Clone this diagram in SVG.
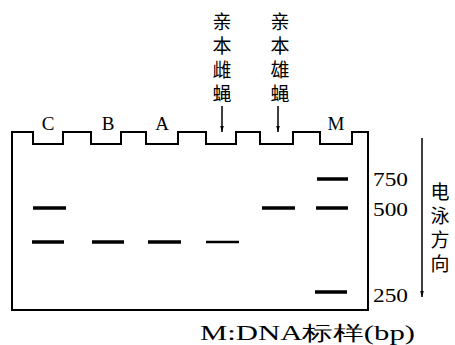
<svg xmlns="http://www.w3.org/2000/svg" width="455" height="345" viewBox="0 0 455 345">
<style>
.ln{fill:none;stroke:#000;stroke-width:2}
.ar{fill:none;stroke:#000;stroke-width:1.5}
.band{stroke:#000;stroke-width:3.5}
.lt{font-family:"Liberation Serif",serif;font-size:19px;fill:#000;text-anchor:middle}
.num{font-family:"Liberation Serif",serif;font-size:19px;fill:#000}
.cjk{font-family:"Liberation Serif","Noto Sans CJK SC",sans-serif;font-size:19px;fill:#000;text-anchor:middle}
</style>
<defs>
<marker id="ah" markerUnits="userSpaceOnUse" markerWidth="6" markerHeight="11" refX="10" refY="3" orient="auto" viewBox="0 0 10 6">
<path d="M0,0 L10,3 L0,6 z" fill="#000"/>
</marker>
</defs>
<rect width="455" height="345" fill="#fff"/>
<g id="gel">
<path class="ln" d="M12,310 L12,132 L33,132 L33,144 L63,144 L63,132 L91,132 L91,144 L121,144 L121,132 L146,132 L146,144 L178,144 L178,132 L206,132 L206,144 L236,144 L236,132 L260,132 L260,144 L293,144 L293,132 L320,132 L320,144 L352,144 L352,132 L368,132 L368,310 Z"/>
</g>
<g id="laneC">
<text class="lt" x="48" y="130">C</text>
<line class="band" x1="33" y1="208" x2="66" y2="208"/>
<line class="band" x1="32" y1="242" x2="64" y2="242"/>
</g>
<g id="laneB">
<text class="lt" x="108" y="130">B</text>
<line class="band" x1="92" y1="242" x2="124" y2="242"/>
</g>
<g id="laneA">
<text class="lt" x="162" y="130">A</text>
<line class="band" x1="148" y1="242" x2="181" y2="242"/>
</g>
<g id="laneFemale">
<text class="cjk" x="222" y="29">亲</text>
<text class="cjk" x="222" y="53">本</text>
<text class="cjk" x="222" y="77">雌</text>
<text class="cjk" x="222" y="101">蝇</text>
<line class="band" x1="206" y1="242" x2="239" y2="242" style="stroke-width:2.5"/>
</g>
<g id="laneMale">
<text class="cjk" x="280" y="29">亲</text>
<text class="cjk" x="280" y="53">本</text>
<text class="cjk" x="280" y="77">雄</text>
<text class="cjk" x="280" y="101">蝇</text>
<line class="band" x1="262" y1="208" x2="295" y2="208"/>
</g>
<g id="laneM">
<text class="lt" x="336" y="130">M</text>
<line class="band" x1="317" y1="179" x2="348" y2="179"/>
<line class="band" x1="316" y1="208" x2="348" y2="208"/>
<line class="band" x1="315" y1="292" x2="347" y2="292"/>
</g>
<g id="scale">
<text class="num" x="373" y="186" textLength="35" lengthAdjust="spacingAndGlyphs">750</text>
<text class="num" x="373" y="216" textLength="35" lengthAdjust="spacingAndGlyphs">500</text>
<text class="num" x="373" y="302" textLength="35" lengthAdjust="spacingAndGlyphs">250</text>
</g>
<g id="direction">
<text class="cjk" x="440" y="199">电</text>
<text class="cjk" x="440" y="223">泳</text>
<text class="cjk" x="440" y="247">方</text>
<text class="cjk" x="440" y="271">向</text>
</g>
<g id="caption">
<text class="num" x="200" y="340" style="font-size:20px" textLength="215" lengthAdjust="spacingAndGlyphs">M:DNA标样(bp)</text>
</g>
<g id="connectors">
<line class="ar" x1="222" y1="106" x2="222" y2="132" marker-end="url(#ah)"/>
<line class="ar" x1="278" y1="106" x2="278" y2="132" marker-end="url(#ah)"/>
<line class="ar" x1="422" y1="138" x2="422" y2="297" marker-end="url(#ah)"/>
</g>
</svg>
